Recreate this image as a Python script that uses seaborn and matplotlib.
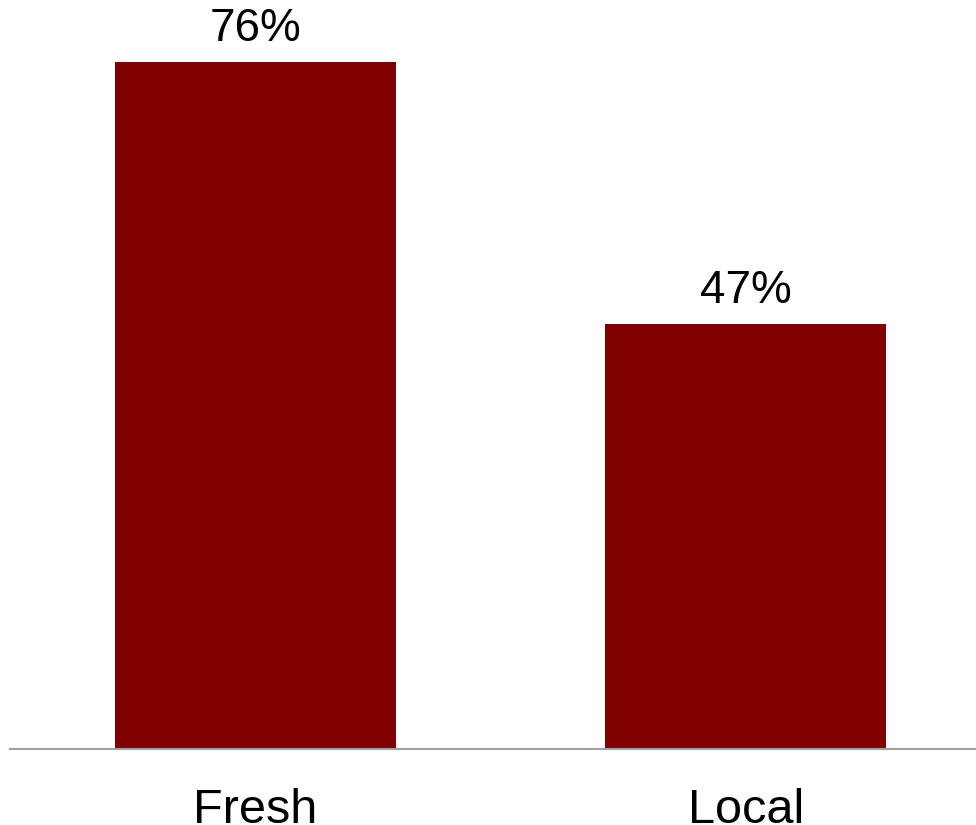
import matplotlib
matplotlib.use("Agg")
import matplotlib.pyplot as plt
import seaborn as sns
import pandas as pd

categories = ["Fresh", "Local"]
values = [76, 47]
labels = ["76%", "47%"]

sns.set_style("white")
plt.rcParams['font.family'] = ['Liberation Sans', 'DejaVu Sans']

fig = plt.figure(figsize=(9.76, 8.25), dpi=100)
ax = fig.add_axes([10/976, (825-749)/825, 966/976, 749/825])

df = pd.DataFrame({"cat": categories, "val": values})
sns.barplot(data=df, x="cat", y="val", color="#800000", saturation=1, width=0.572,
            linewidth=0, ax=ax)

ax.set_xlim(-0.501, 1.470)
ax.set_ylim(0, 82.8)
for p, lab in zip(ax.patches, labels):
    ax.annotate(lab, (p.get_x() + p.get_width()/2, p.get_height()),
                xytext=(0, 7.5), textcoords="offset points",
                ha="center", va="bottom", fontsize=33, color="black")

for s in ["top", "right", "left"]:
    ax.spines[s].set_visible(False)
ax.spines["bottom"].set_color("#a0a0a0")
ax.spines["bottom"].set_linewidth(1.5)
ax.set_yticks([])
ax.set_xlabel("")
ax.set_ylabel("")
ax.tick_params(axis="x", length=0, pad=28, labelsize=35, labelcolor="black")

fig.savefig("out.png", dpi=100)
